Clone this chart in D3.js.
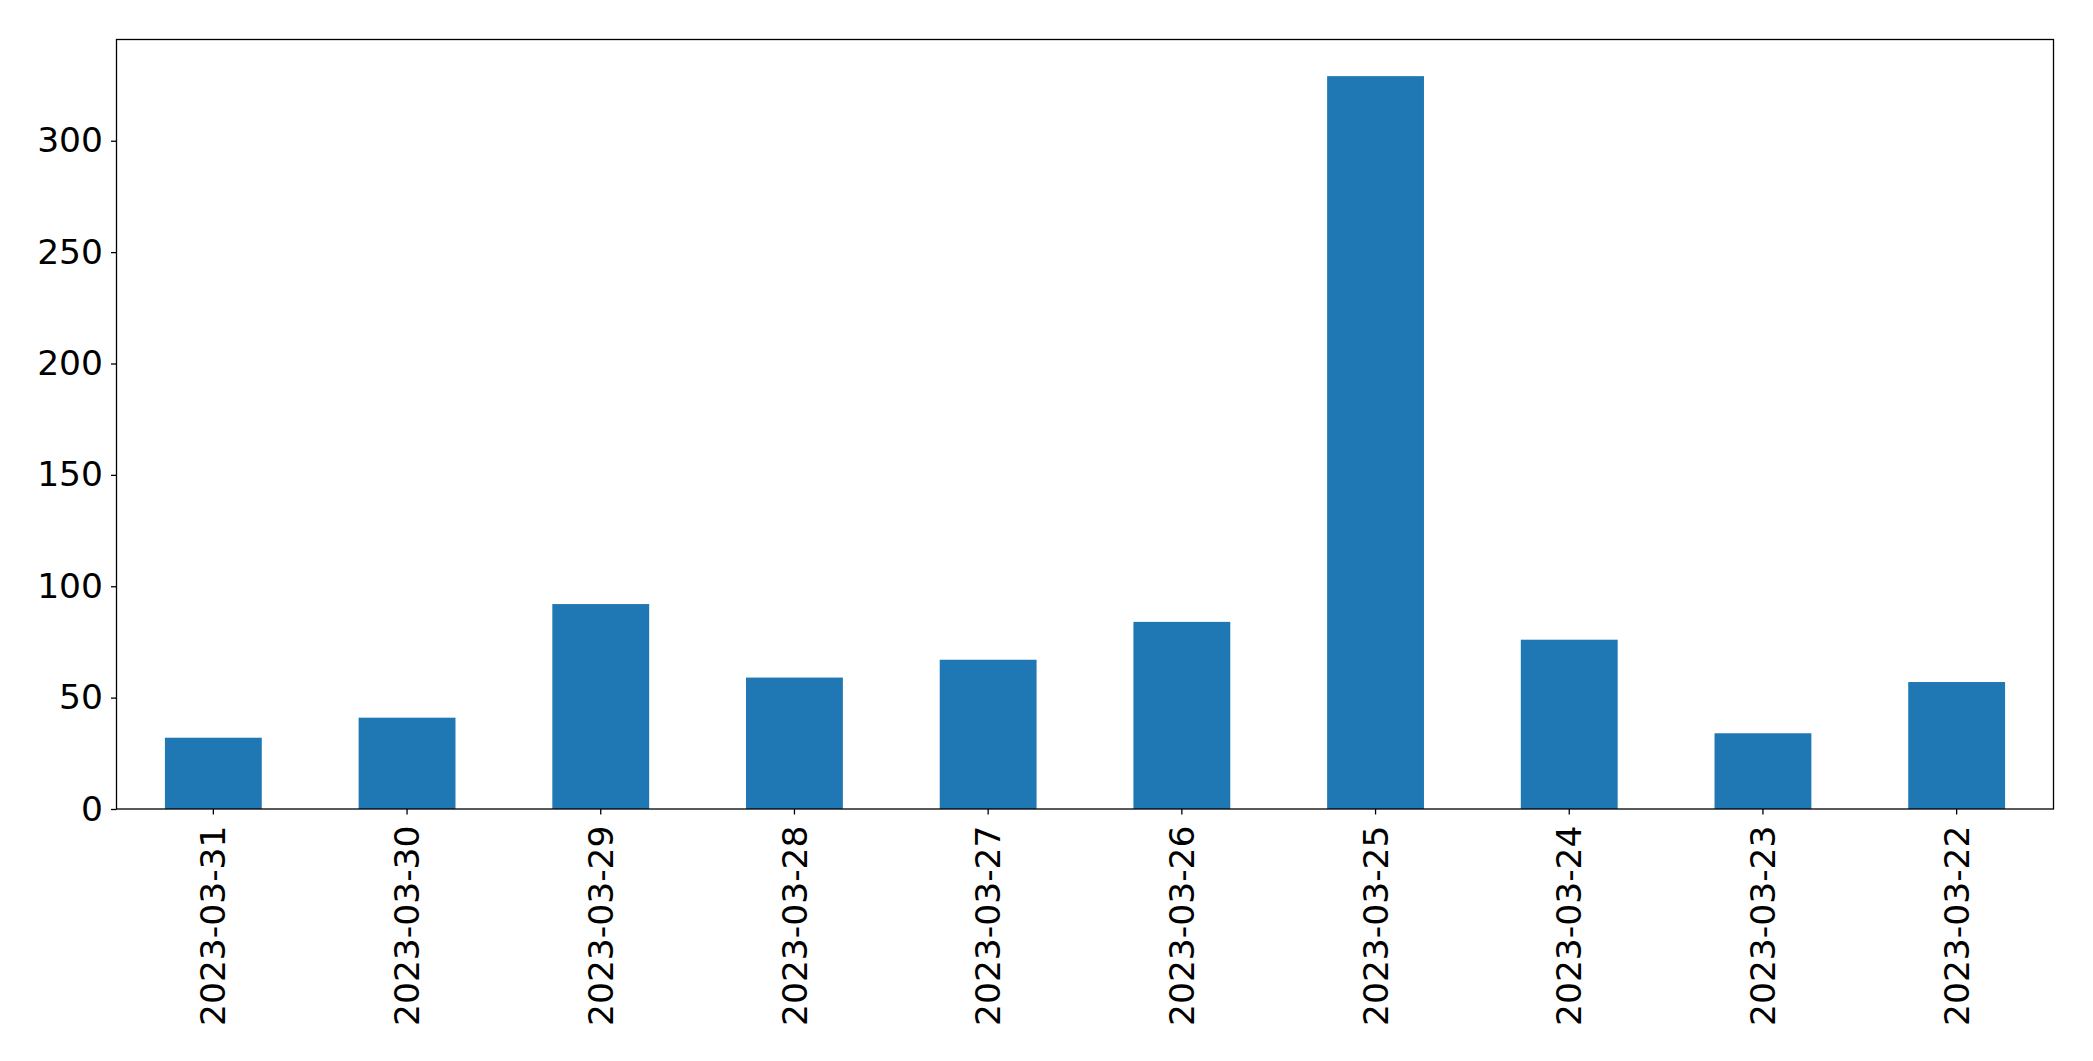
<!DOCTYPE html>
<html>
<head>
<meta charset="utf-8">
<script src="https://cdn.jsdelivr.net/npm/d3@7"></script>
<style>
  html, body { margin: 0; padding: 0; background: #fff; }
  svg { display: block; }
</style>
</head>
<body>
<svg id="chart" width="2093" height="1061"></svg>
<script>
const categories = ["2023-03-31", "2023-03-30", "2023-03-29", "2023-03-28", "2023-03-27",
                    "2023-03-26", "2023-03-25", "2023-03-24", "2023-03-23", "2023-03-22"];
const values = [32, 41, 92, 59, 67, 84, 329, 76, 34, 57];
const yTicks = [0, 50, 100, 150, 200, 250, 300];

const W = 2093, H = 1061;
const margin = { left: 116.5, right: W - 2053.5, top: 39.5, bottom: H - 809 };
const iw = W - margin.left - margin.right;
const ih = H - margin.top - margin.bottom;
const font = "'DejaVu Sans', sans-serif";
const fs = 34.5;

const svg = d3.select("#chart");
const g = svg.append("g").attr("transform", `translate(${margin.left},${margin.top})`);

// band scale matching matplotlib: xlim -0.5..n-0.5, bar width 0.5
const x = d3.scaleBand().domain(categories).range([0, iw]).paddingInner(0.5).paddingOuter(0.25);
const yMax = d3.max(values) * 1.05;
const y = d3.scaleLinear().domain([0, yMax]).range([ih, 0]);

g.selectAll("rect.bar").data(values).join("rect")
  .attr("class", "bar")
  .attr("x", (d, i) => x(categories[i]))
  .attr("width", x.bandwidth())
  .attr("y", d => y(d))
  .attr("height", d => y(0) - y(d))
  .attr("fill", "#1f77b4");

// Y axis
const yAxis = d3.axisLeft(y).tickValues(yTicks).tickSize(5.5).tickPadding(8).tickFormat(d3.format("d"));
const ya = g.append("g").call(yAxis);
ya.select(".domain").remove();
ya.selectAll("line").attr("stroke", "#000").attr("stroke-width", 1.3);
ya.selectAll("text").attr("font-family", font).attr("font-size", fs).attr("fill", "#000");

// X axis
const xAxis = d3.axisBottom(x).tickSize(5.5).tickPadding(0);
const xa = g.append("g").attr("transform", `translate(0,${ih})`).call(xAxis);
xa.select(".domain").remove();
xa.selectAll("line").attr("stroke", "#000").attr("stroke-width", 1.3);
xa.selectAll("text")
  .attr("font-family", font).attr("font-size", fs).attr("fill", "#000")
  .attr("transform", "rotate(-90)")
  .attr("text-anchor", "end")
  .attr("x", -16.5).attr("y", 0).attr("dy", "0.35em");

// Frame
g.append("rect").attr("x", 0).attr("y", 0).attr("width", iw).attr("height", ih)
  .attr("fill", "none").attr("stroke", "#000").attr("stroke-width", 1.3);
</script>
</body>
</html>
